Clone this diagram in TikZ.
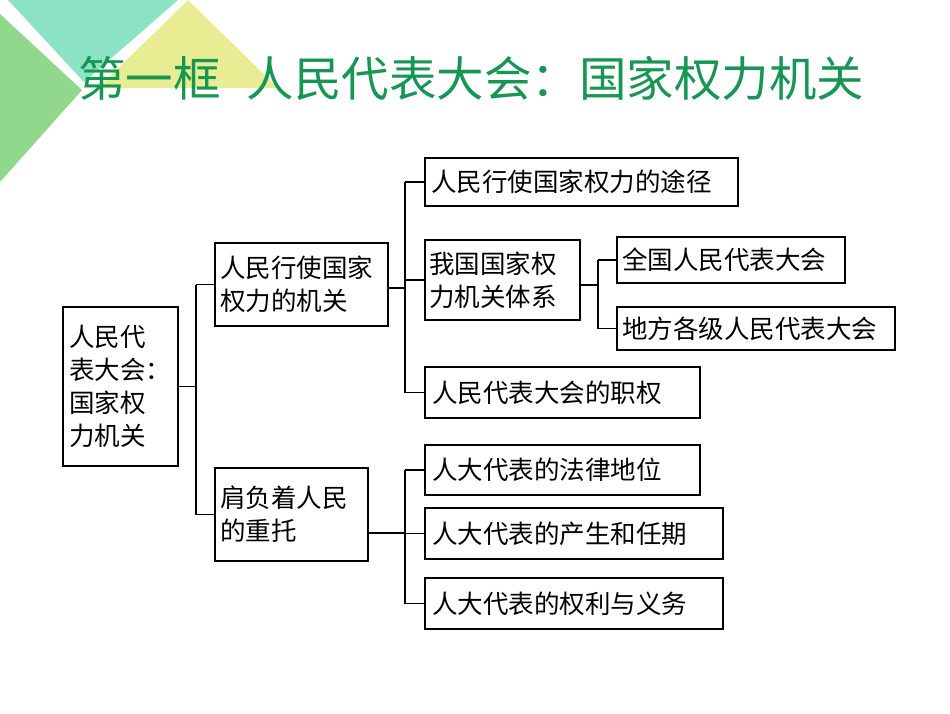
\documentclass[tikz,border=0pt]{standalone}
\usepackage{fontspec}
\newfontfamily\cjk{Noto Sans CJK SC}
\definecolor{teal1}{RGB}{140,226,196}
\definecolor{grn1}{RGB}{146,216,140}
\definecolor{yel1}{RGB}{232,236,146}
\definecolor{ttl}{RGB}{22,150,82}
\begin{document}
\begin{tikzpicture}[x=1pt,y=-1pt,
  bx/.style={draw,line width=1.2pt,inner xsep=0pt,inner ysep=0pt,font=\cjk\fontsize{25.5}{33}\selectfont,align=left,anchor=center},
  ln/.style={line width=1.2pt}]
\useasboundingbox (0,0) rectangle (950,713);
\fill[teal1] (8,0) -- (178,0) -- (84,82) -- cycle;
\fill[grn1] (0,14) -- (82,90) -- (0,182) -- cycle;
\fill[yel1] (188,0) -- (278,88) -- (98,88) -- cycle;
\node[text=ttl,font=\cjk\fontsize{47.5}{50}\selectfont,anchor=west,inner sep=0pt] (title) at (78,78) {第一框\hspace{26pt}人民代表大会：国家权力机关};
\newcommand\bxx[6]{\node[bx,minimum width=#3pt,minimum height=#4pt,text width=#3pt-2*#5pt,inner xsep=#5pt] (#6) at (#1,#2) {#6txt};}
\node[bx,minimum width=115pt,minimum height=159pt,text width=103pt,inner xsep=6pt] (r) at (120.5,386.5) {人民代\\表大会：\\国家权\\力机关};
\node[bx,minimum width=173pt,minimum height=83pt,text width=163pt,inner xsep=5pt] (a) at (301.5,284.5) {人民行使国家\\权力的机关};
\node[bx,minimum width=153pt,minimum height=93pt,text width=143pt,inner xsep=5pt] (b) at (291.5,514.5) {肩负着人民\\的重托};
\node[bx,minimum width=313pt,minimum height=48pt,text width=301pt,inner xsep=6pt] (a1) at (581.5,182) {人民行使国家权力的途径};
\node[bx,minimum width=155pt,minimum height=80pt,text width=147pt,inner xsep=4pt] (a2) at (502.5,280) {我国国家权\\力机关体系};
\node[bx,minimum width=275pt,minimum height=51pt,text width=261pt,inner xsep=7pt] (a3) at (562.5,392.5) {人民代表大会的职权};
\node[bx,minimum width=228pt,minimum height=46pt,text width=218pt,inner xsep=5pt] (a21) at (731,260) {全国人民代表大会};
\node[bx,minimum width=278pt,minimum height=43pt,text width=268pt,inner xsep=5pt] (a22) at (756,328.5) {地方各级人民代表大会};
\node[bx,minimum width=275pt,minimum height=50pt,text width=261pt,inner xsep=7pt] (b1) at (562.5,470) {人大代表的法律地位};
\node[bx,minimum width=298pt,minimum height=51pt,text width=284pt,inner xsep=7pt] (b2) at (574,533.5) {人大代表的产生和任期};
\node[bx,minimum width=298pt,minimum height=51pt,text width=284pt,inner xsep=7pt] (b3) at (574,603.5) {人大代表的权利与义务};
\coordinate (j1) at (196,386.5);
\draw[ln] (r.east) -- (j1) (j1|-a.west) -- (a.west) (j1|-a.west) -- (j1|-b.west) -- (b.west);
\coordinate (j2) at (405,288);
\draw[ln] (a.east|-j2) -- (j2) (j2|-a1.west) -- (a1.west) (j2|-a1.west) -- (j2|-a3.west) -- (a3.west) (j2|-a2.west) -- (a2.west);
\coordinate (j3) at (598,285);
\draw[ln] (a2.east|-j3) -- (j3) (j3|-a21.west) -- (a21.west) (j3|-a21.west) -- (j3|-a22.west) -- (a22.west);
\coordinate (j4) at (405,533);
\draw[ln] (b.east|-j4) -- (j4) (j4|-b1.west) -- (b1.west) (j4|-b1.west) -- (j4|-b3.west) -- (b3.west) (j4|-b2.west) -- (b2.west);
\end{tikzpicture}
\end{document}
